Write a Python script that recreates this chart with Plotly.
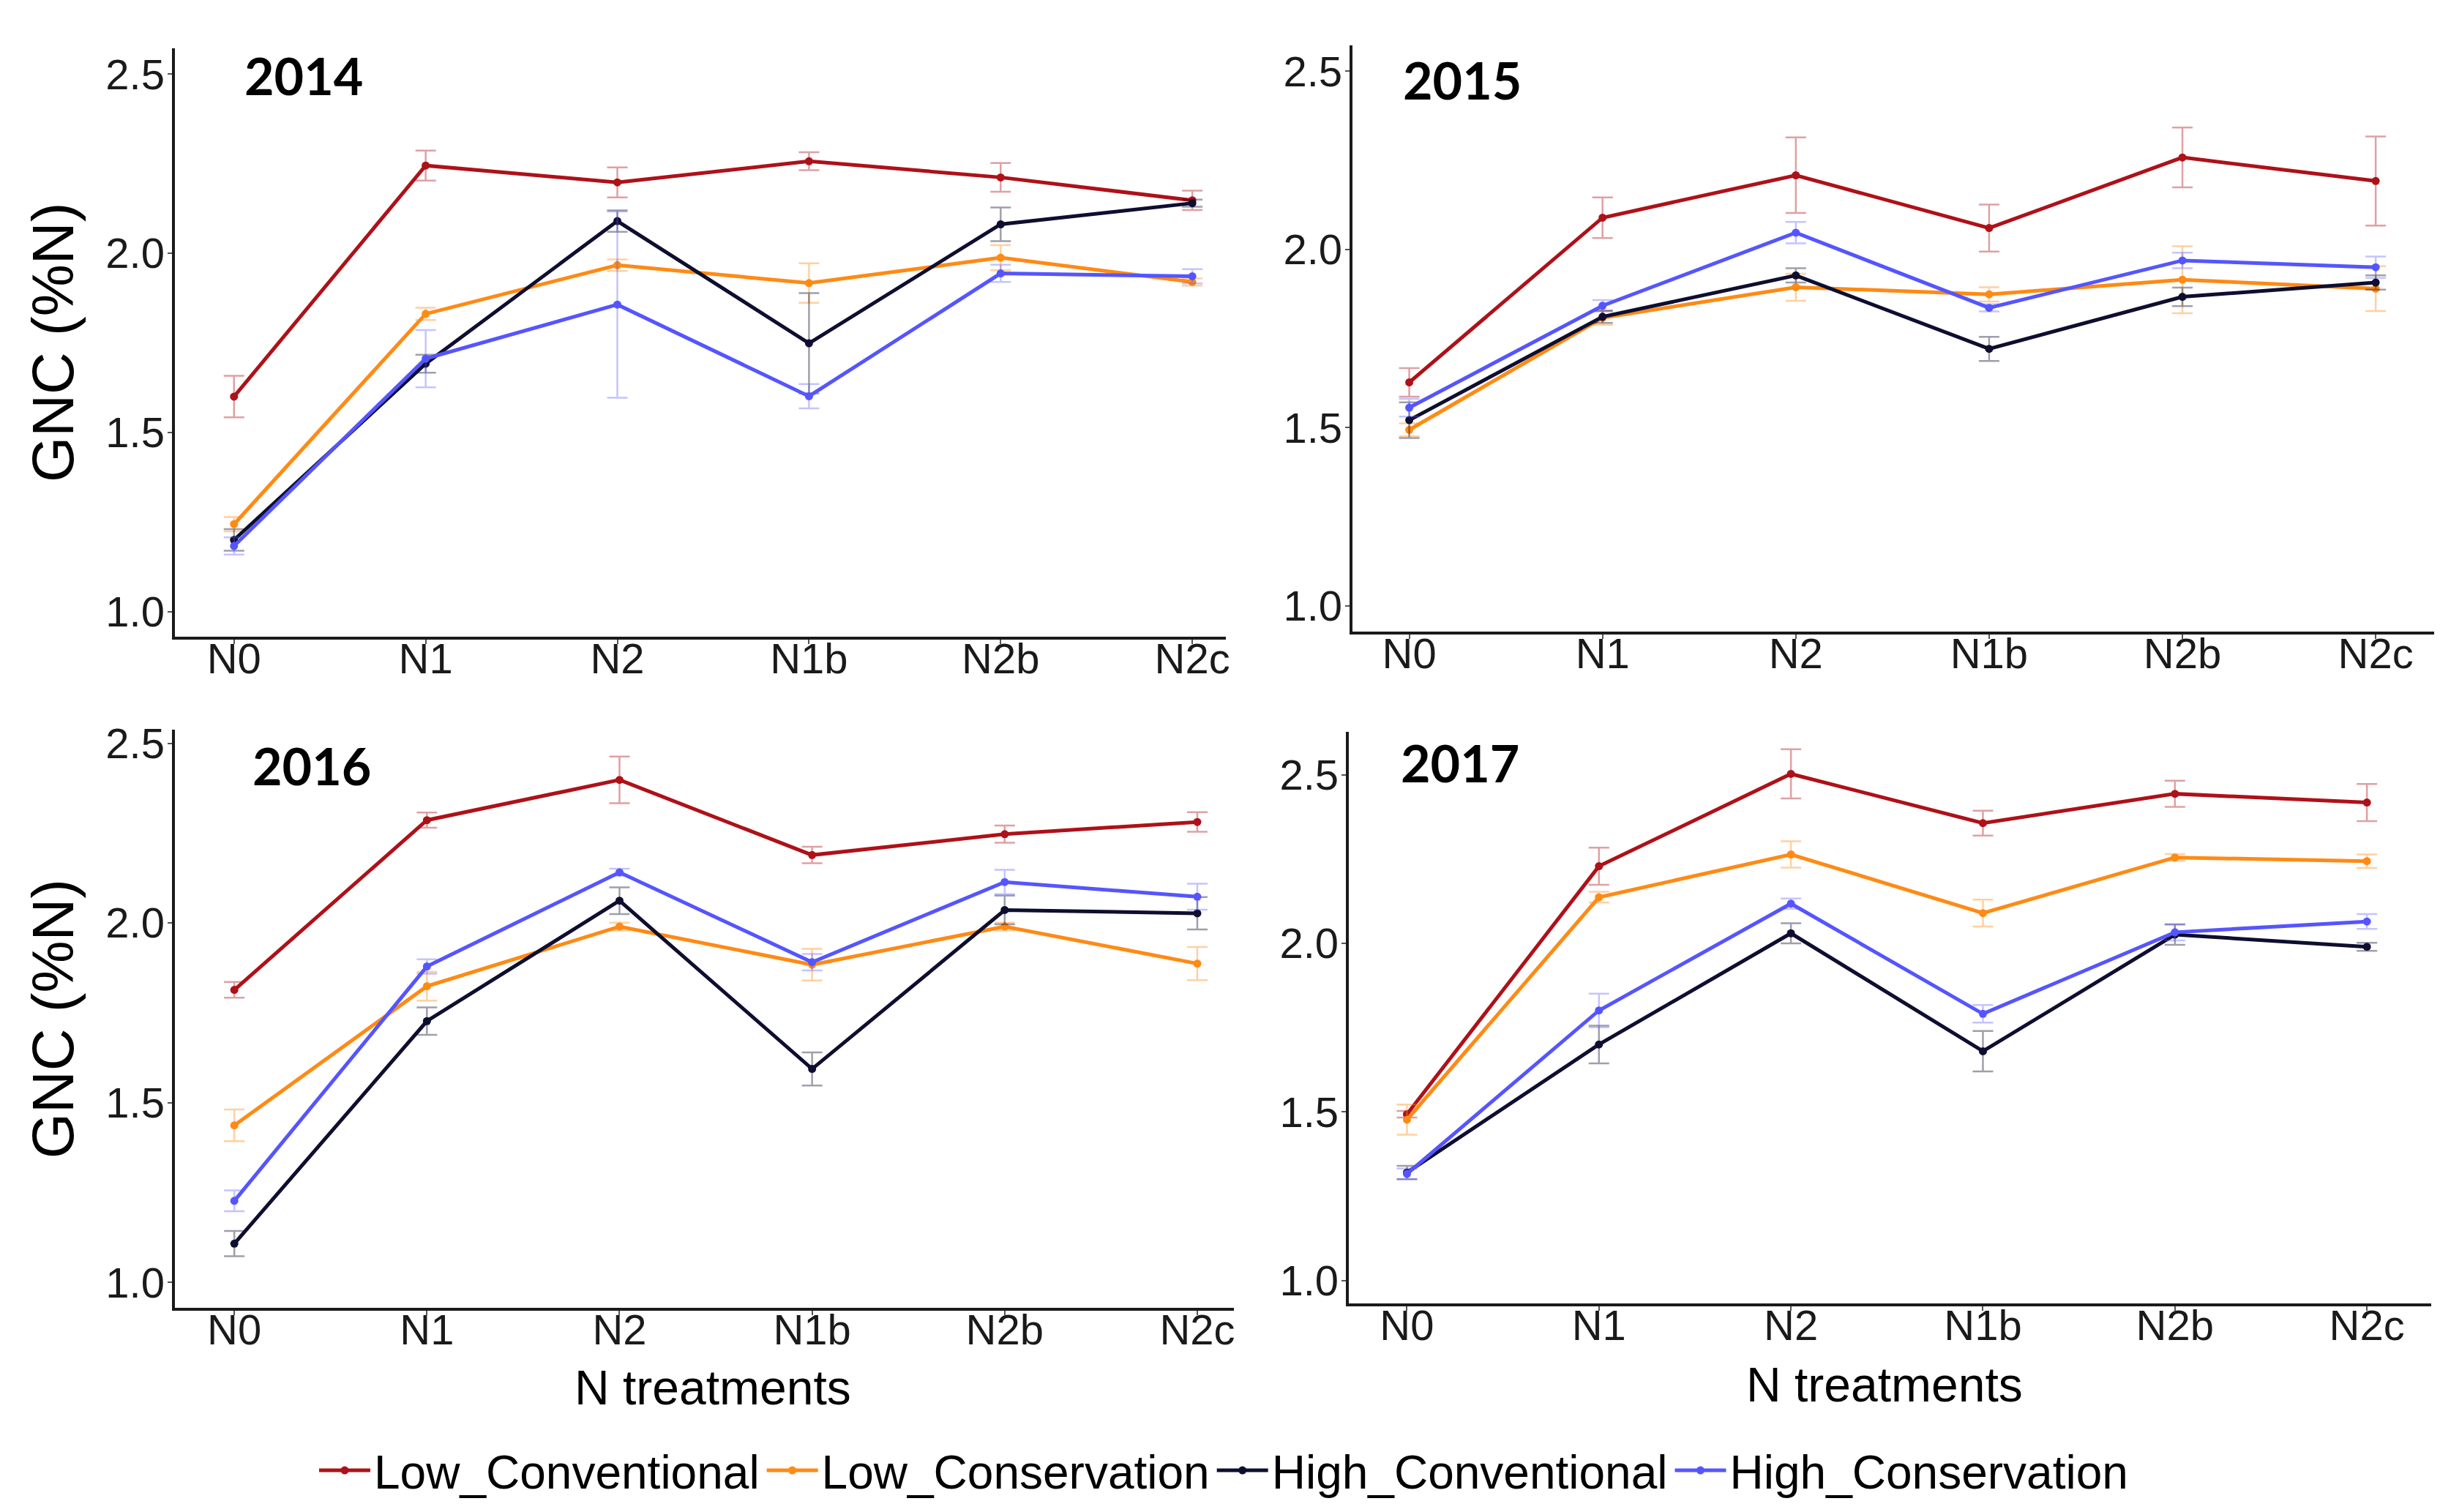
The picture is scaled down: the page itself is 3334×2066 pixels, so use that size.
import plotly.graph_objects as go

W, H = 3334, 2066

categories = ["N0", "N1", "N2", "N1b", "N2b", "N2c"]
years = ["2014", "2015", "2016", "2017"]
series_names = ["Low_Conventional", "Low_Conservation", "High_Conventional", "High_Conservation"]
series_colors = ["#AE1118", "#FF8A14", "#0E0E30", "#5555FF"]
error_colors = ["rgba(174,17,24,0.40)", "rgba(255,138,20,0.40)", "rgba(14,14,48,0.40)", "rgba(85,85,255,0.35)"]

# 2014
low_conv_2014 = [1.60, 2.245, 2.198, 2.257, 2.212, 2.148]
low_conv_2014_err = [0.058, 0.042, 0.042, 0.025, 0.040, 0.027]
low_cons_2014 = [1.244, 1.831, 1.967, 1.917, 1.988, 1.920]
low_cons_2014_err = [0.020, 0.017, 0.016, 0.055, 0.035, 0.010]
high_conv_2014 = [1.200, 1.692, 2.090, 1.749, 2.081, 2.140]
high_conv_2014_err = [0.030, 0.025, 0.030, 0.140, 0.047, 0.010]
high_cons_2014 = [1.183, 1.706, 1.857, 1.601, 1.944, 1.936]
high_cons_2014_err = [0.024, 0.080, 0.260, 0.034, 0.024, 0.020]

# 2015
low_conv_2015 = [1.627, 2.089, 2.208, 2.060, 2.258, 2.192]
low_conv_2015_err = [0.040, 0.057, 0.106, 0.066, 0.084, 0.125]
low_cons_2015 = [1.494, 1.808, 1.894, 1.874, 1.915, 1.890]
low_cons_2015_err = [0.018, 0.020, 0.038, 0.020, 0.094, 0.063]
high_conv_2015 = [1.521, 1.811, 1.927, 1.721, 1.867, 1.907]
high_conv_2015_err = [0.050, 0.017, 0.020, 0.034, 0.026, 0.020]
high_cons_2015 = [1.556, 1.842, 2.047, 1.836, 1.969, 1.950]
high_cons_2015_err = [0.025, 0.016, 0.030, 0.010, 0.022, 0.030]

# 2016
low_conv_2016 = [1.814, 2.286, 2.398, 2.189, 2.247, 2.281]
low_conv_2016_err = [0.022, 0.021, 0.065, 0.023, 0.024, 0.027]
low_cons_2016 = [1.437, 1.824, 1.990, 1.884, 1.990, 1.887]
low_cons_2016_err = [0.044, 0.040, 0.011, 0.044, 0.011, 0.046]
high_conv_2016 = [1.108, 1.727, 2.062, 1.594, 2.036, 2.027]
high_conv_2016_err = [0.035, 0.038, 0.037, 0.046, 0.040, 0.045]
high_cons_2016 = [1.227, 1.879, 2.141, 1.891, 2.114, 2.073]
high_cons_2016_err = [0.029, 0.020, 0.010, 0.023, 0.034, 0.036]

# 2017
low_conv_2017 = [1.493, 2.229, 2.503, 2.357, 2.444, 2.418]
low_conv_2017_err = [0.010, 0.055, 0.073, 0.037, 0.039, 0.055]
low_cons_2017 = [1.477, 2.137, 2.264, 2.090, 2.255, 2.244]
low_cons_2017_err = [0.045, 0.016, 0.039, 0.040, 0.010, 0.020]
high_conv_2017 = [1.320, 1.700, 2.030, 1.680, 2.026, 1.990]
high_conv_2017_err = [0.020, 0.056, 0.030, 0.060, 0.030, 0.012]
high_cons_2017 = [1.316, 1.801, 2.118, 1.791, 2.033, 2.065]
high_cons_2017_err = [0.016, 0.050, 0.015, 0.026, 0.024, 0.022]

y_ticks = [1.0, 1.5, 2.0, 2.5]
y_tick_labels = ["1.0", "1.5", "2.0", "2.5"]

panel_data = {
    "2014": [(low_conv_2014, low_conv_2014_err), (low_cons_2014, low_cons_2014_err),
             (high_conv_2014, high_conv_2014_err), (high_cons_2014, high_cons_2014_err)],
    "2015": [(low_conv_2015, low_conv_2015_err), (low_cons_2015, low_cons_2015_err),
             (high_conv_2015, high_conv_2015_err), (high_cons_2015, high_cons_2015_err)],
    "2016": [(low_conv_2016, low_conv_2016_err), (low_cons_2016, low_cons_2016_err),
             (high_conv_2016, high_conv_2016_err), (high_cons_2016, high_cons_2016_err)],
    "2017": [(low_conv_2017, low_conv_2017_err), (low_cons_2017, low_cons_2017_err),
             (high_conv_2017, high_conv_2017_err), (high_cons_2017, high_cons_2017_err)],
}

# layout in pixels: (x0, x1, ytop, ybottom), axis ranges
panel_px = {
    "2014": (231, 1670, 43, 854),
    "2015": (1843, 3326, 39, 847),
    "2016": (231, 1681, 982, 1778),
    "2017": (1838, 3320, 985, 1772),
}
panel_xrange = {
    "2014": [-0.31, 5.175],
    "2015": [-0.295, 5.31],
    "2016": [-0.31, 5.19],
    "2017": [-0.304, 5.335],
}
panel_yrange = {
    "2014": [0.929, 2.573],
    "2015": [0.927, 2.573],
    "2016": [0.929, 2.537],
    "2017": [0.931, 2.627],
}
year_label_px = {"2014": (325, 81), "2015": (1910, 87), "2016": (336, 1031), "2017": (1907, 1027)}

TICK_FONT = dict(family="Liberation Sans, Arial, sans-serif", size=58, color="#1a1a1a")

fig = go.Figure()
layout_axes = {}
annotations = []

for i, yr in enumerate(years):
    ax = "" if i == 0 else str(i + 1)
    x0, x1, yt, yb = panel_px[yr]
    layout_axes["xaxis" + ax] = dict(
        domain=[x0 / W, x1 / W], anchor="y" + ax,
        type="category", categoryorder="array", categoryarray=categories,
        range=panel_xrange[yr], showline=True, linecolor="#1a1a1a", linewidth=4,
        ticks="outside", ticklen=6, tickwidth=2, tickcolor="#555",
        ticklabelstandoff=-30,
        showgrid=False, zeroline=False, tickfont=TICK_FONT, mirror=False,
    )
    layout_axes["yaxis" + ax] = dict(
        domain=[1 - yb / H, 1 - yt / H], anchor="x" + ax,
        range=panel_yrange[yr], tickvals=y_ticks, ticktext=y_tick_labels,
        showline=True, linecolor="#1a1a1a", linewidth=4,
        ticks="outside", ticklen=6, tickwidth=2, tickcolor="#555",
        ticklabelstandoff=-8,
        showgrid=False, zeroline=False, tickfont=TICK_FONT,
    )
    for s, (vals, errs) in enumerate(panel_data[yr]):
        fig.add_trace(go.Scatter(
            x=categories, y=vals, xaxis="x" + ax, yaxis="y" + ax,
            mode="lines+markers", name=series_names[s],
            legendgroup=series_names[s], showlegend=(i == 0),
            line=dict(color=series_colors[s], width=5),
            marker=dict(color=series_colors[s], size=11),
            error_y=dict(type="data", array=errs, visible=True,
                         color=error_colors[s], thickness=2.5, width=14),
        ))
    lx, ly = year_label_px[yr]
    annotations.append(dict(
        x=lx / W, y=1 - ly / H, xref="paper", yref="paper", xanchor="left", yanchor="middle",
        text="<b>%s</b>" % yr, showarrow=False,
        font=dict(family="Lato, Open Sans, sans-serif", size=70, color="#000"),
    ))

# axis titles
for cy in [(43 + 854) / 2, (982 + 1778) / 2]:
    annotations.append(dict(
        x=64 / W, y=1 - cy / H, xref="paper", yref="paper", xanchor="center", yanchor="middle",
        text="GNC (%N)", textangle=-90, showarrow=False,
        font=dict(family="Liberation Sans, Arial, sans-serif", size=80, color="#000"),
    ))
for cx, cy in [(968, 1888), (2572, 1884)]:
    annotations.append(dict(
        x=cx / W, y=1 - cy / H, xref="paper", yref="paper", xanchor="center", yanchor="middle",
        text="N treatments", showarrow=False,
        font=dict(family="Liberation Sans, Arial, sans-serif", size=66, color="#000"),
    ))

fig.update_layout(
    width=W, height=H, margin=dict(l=0, r=0, t=0, b=0),
    paper_bgcolor="white", plot_bgcolor="white",
    showlegend=True,
    legend=dict(orientation="h", x=0.5, xanchor="center", y=1 - 2002 / H, yanchor="middle",
                font=dict(family="Liberation Sans, Arial, sans-serif", size=64, color="#000"),
                itemwidth=70, tracegroupgap=0, bgcolor="rgba(0,0,0,0)"),
    annotations=annotations,
    **layout_axes,
)

fig.write_html("out.html")
